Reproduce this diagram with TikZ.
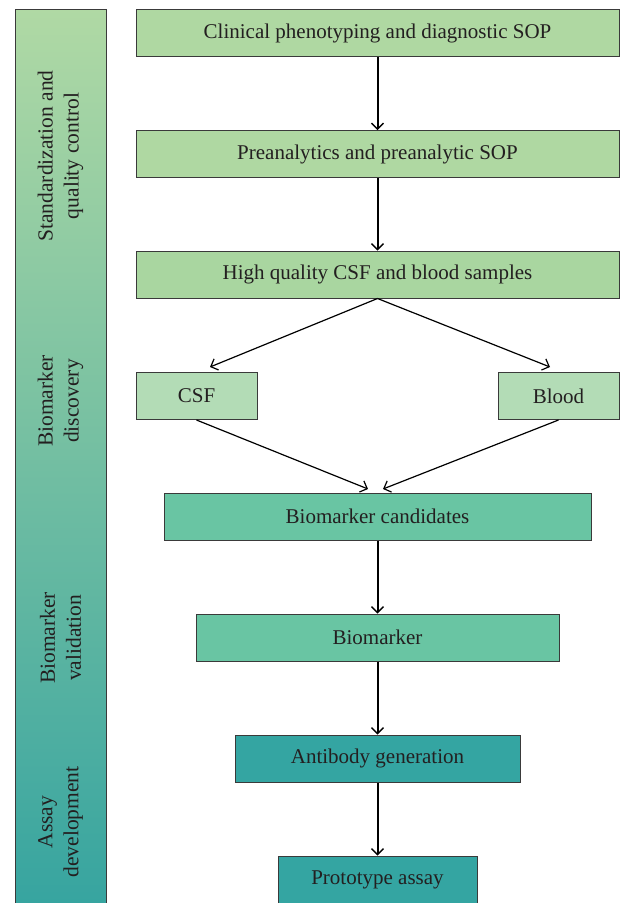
\documentclass[tikz,border=0pt]{standalone}
\usepackage{fontspec}
\setmainfont{Liberation Serif}
\usetikzlibrary{arrows.meta}
\definecolor{gA}{HTML}{AFD8A2}
\definecolor{gB}{HTML}{A9D6A0}
\definecolor{gC}{HTML}{B3DCB6}
\definecolor{gD}{HTML}{69C5A3}
\definecolor{gE}{HTML}{34A5A2}
\definecolor{txt}{HTML}{231F20}
\definecolor{edge}{HTML}{3A3A3A}
\definecolor{barTop}{HTML}{B0D9A4}
\definecolor{barMid}{HTML}{8ACDA5}
\definecolor{barBot}{HTML}{36A4A0}
\tikzset{
  box/.style={draw=edge, line width=1pt, inner sep=0pt, text=txt,
    font=\fontsize{21}{25}\selectfont},
  lbl/.style={rotate=90, align=center, text=txt, inner sep=0pt,
    font=\fontsize{21.5}{26}\selectfont},
  arr/.style={line width=2pt, -{Straight Barb[length=6pt,width=12pt,line width=1.3pt]}},
  darr/.style={line width=1.2pt, -{Straight Barb[length=6pt,width=12pt,line width=1.2pt]}}
}
\begin{document}
\begin{tikzpicture}[x=1pt,y=-1pt]
\useasboundingbox (0,0) rectangle (620,903);
% side bar
\shade[top color=barTop, middle color=barMid, bottom color=barBot] (15,9) rectangle (106,910);
\draw[edge, line width=1pt] (15,910) -- (15,9) -- (106,9) -- (106,910);
\node[lbl] (s1) at (60.5,156) {Standardization and\\quality control};
\node[lbl] (s2) at (60.5,401) {Biomarker\\discovery};
\node[lbl] (s3) at (60.5,638) {Biomarker\\validation};
\node[lbl] (s4) at (60.5,822) {Assay\\development};
% boxes
\node[box, fill=gA, minimum width=483pt, minimum height=47pt] (b1) at (377.5,33) {Clinical phenotyping and diagnostic SOP};
\node[box, fill=gA, minimum width=483pt, minimum height=47pt] (b2) at (377.5,154) {Preanalytics and preanalytic SOP};
\node[box, fill=gB, minimum width=483pt, minimum height=47pt] (b3) at (377.5,274.5) {High quality CSF and blood samples};
\node[box, fill=gC, minimum width=121pt, minimum height=47pt] (csf) at (196.5,396) {CSF};
\node[box, fill=gC, minimum width=121pt, minimum height=47pt] (blood) at (558.5,396) {Blood};
\node[box, fill=gD, minimum width=427pt, minimum height=47pt] (b4) at (377.5,516.5) {Biomarker candidates};
\node[box, fill=gD, minimum width=363pt, minimum height=47pt] (b5) at (377.5,637.5) {Biomarker};
\node[box, fill=gE, minimum width=285pt, minimum height=47pt] (b6) at (377.5,758.5) {Antibody generation};
\draw[edge, line width=1pt, fill=gE] (278,910) -- (278,856) -- (477,856) -- (477,910);
\node[box, draw=none, minimum width=199pt, minimum height=47pt] (b7) at (377.5,879.5) {Prototype assay};
% connectors
\coordinate (c1) at (210,367);
\coordinate (c2) at (550,367);
\coordinate (c3) at (368,489);
\coordinate (c4) at (383,489);
\draw[arr] (b1.south) -- (b2.north);
\draw[arr] (b2.south) -- (b3.north);
\draw[darr] (b3.south) -- (c1);
\draw[darr] (b3.south) -- (c2);
\draw[darr] (csf.south) -- (c3);
\draw[darr] (blood.south) -- (c4);
\draw[arr] (b4.south) -- (b5.north);
\draw[arr] (b5.south) -- (b6.north);
\draw[arr] (b6.south) -- (b7.north);
\end{tikzpicture}
\end{document}
